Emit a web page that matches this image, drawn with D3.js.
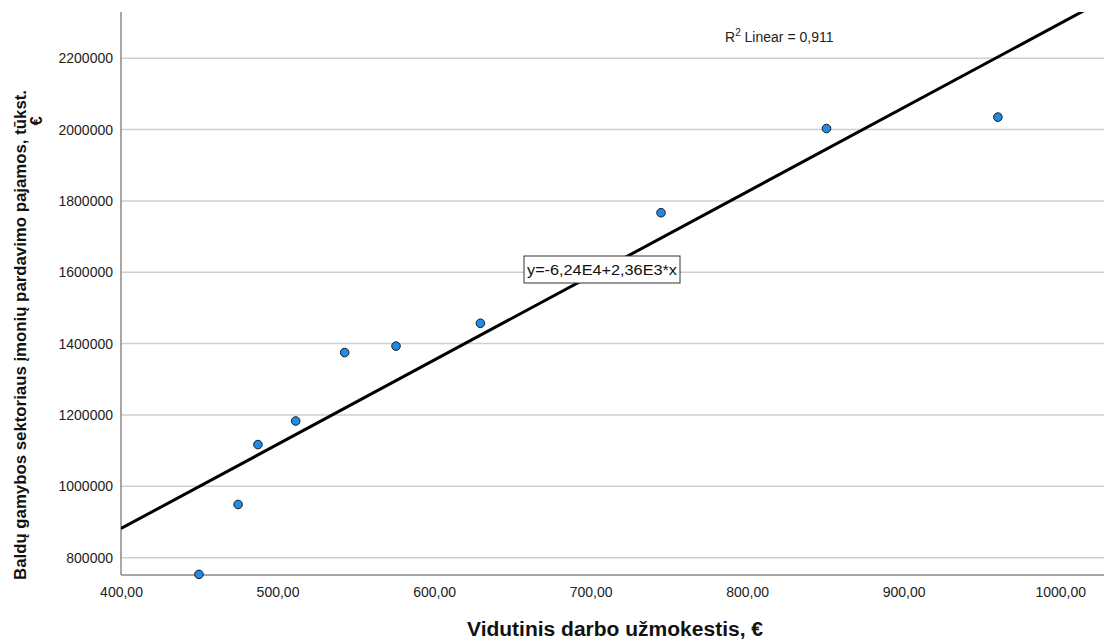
<!DOCTYPE html>
<html>
<head>
<meta charset="utf-8">
<script src="https://cdn.jsdelivr.net/npm/d3@7"></script>
<style>
  html, body { margin: 0; padding: 0; background: #fff; }
  svg { display: block; }
  text { font-family: "Liberation Sans", Arial, sans-serif; }
</style>
</head>
<body>
<svg id="chart" width="1106" height="643"></svg>
<script>
// Average wage (EUR) vs furniture sector sales revenue (thousand EUR)
const wages = [449.8, 474.8, 487.5, 511.6, 542.9, 575.7, 629.6, 745.0, 850.7, 960.2];
const revenue = [753000, 949000, 1117000, 1183000, 1375000, 1393000, 1457000, 1767000, 2003000, 2035000];
const xTicks = [400, 500, 600, 700, 800, 900, 1000];
const yTicks = [800000, 1000000, 1200000, 1400000, 1600000, 1800000, 2000000, 2200000];
const fitIntercept = -62400;
const fitSlope = 2360;
const r2 = "0,911";
const equationLabel = "y=-6,24E4+2,36E3*x";
const xTitle = "Vidutinis darbo užmokestis, €";
const yTitleLines = ["Baldų gamybos sektoriaus įmonių pardavimo pajamos, tūkst.", "€"];

const svg = d3.select("#chart");
const plot = { left: 121, right: 1104, top: 12, bottom: 575 };

const x = d3.scaleLinear().domain([400, 1028]).range([plot.left, plot.right]);
const y = d3.scaleLinear().domain([751300, 2329700]).range([plot.bottom, plot.top]);

const fmtX = v => d3.format(".2f")(v).replace(".", ",");

// clip for the plot area
svg.append("defs").append("clipPath").attr("id", "plotClip")
  .append("rect").attr("x", plot.left).attr("y", plot.top)
  .attr("width", plot.right - plot.left).attr("height", plot.bottom - plot.top);

// horizontal grid lines
svg.append("g").selectAll("line").data(yTicks).join("line")
  .attr("x1", plot.left).attr("x2", plot.right)
  .attr("y1", d => y(d)).attr("y2", d => y(d))
  .attr("stroke", "#cfcfcf").attr("stroke-width", 1.5);

// axes
const yAxis = svg.append("g").attr("transform", `translate(${plot.left},0)`)
  .call(d3.axisLeft(y).tickValues(yTicks).tickSize(0).tickPadding(8).tickFormat(d3.format("d")));
const xAxis = svg.append("g").attr("transform", `translate(0,${plot.bottom})`)
  .call(d3.axisBottom(x).tickValues(xTicks).tickSize(0).tickPadding(12).tickFormat(fmtX));
[yAxis, xAxis].forEach(g => {
  g.select(".domain").attr("stroke", "#8a8a8a").attr("stroke-width", 1.5);
  g.selectAll("text").attr("font-size", 14).attr("fill", "#222")
    .attr("font-family", "'Liberation Sans', Arial, sans-serif");
});
yAxis.select(".domain").attr("d", `M0,${plot.top}V${plot.bottom}`);
xAxis.select(".domain").attr("d", `M${plot.left},0H${plot.right}`);

// fit line
const fitY = v => fitIntercept + fitSlope * v;
svg.append("line")
  .attr("clip-path", "url(#plotClip)")
  .attr("x1", x(400)).attr("y1", y(fitY(400)))
  .attr("x2", x(1028)).attr("y2", y(fitY(1028)))
  .attr("stroke", "#000").attr("stroke-width", 3);

// points
svg.append("g").selectAll("circle").data(wages.map((w, i) => [w, revenue[i]])).join("circle")
  .attr("cx", d => x(d[0])).attr("cy", d => y(d[1])).attr("r", 4.3)
  .attr("fill", "#1e8ce6").attr("stroke", "#1a1a1a").attr("stroke-width", 1);

// R² annotation
const r2Text = svg.append("text").attr("x", 725).attr("y", 42).attr("font-size", 14).attr("fill", "#222");
r2Text.append("tspan").text("R");
r2Text.append("tspan").attr("font-size", 10).attr("dy", -6).text("2");
r2Text.append("tspan").attr("dy", 6).text(" Linear = " + r2);

// equation label box
const eqX = 602, eqY = 269.5;
const eqGroup = svg.append("g");
const eqRect = eqGroup.append("rect");
const eqText = eqGroup.append("text").attr("x", eqX).attr("y", eqY + 5.5).attr("text-anchor", "middle")
  .attr("font-size", 15.5).attr("fill", "#111")
  .attr("textLength", 150).attr("lengthAdjust", "spacingAndGlyphs").text(equationLabel);
eqRect.attr("x", eqX - 78).attr("y", eqY - 13.5).attr("width", 156).attr("height", 27)
  .attr("fill", "#fff").attr("stroke", "#333").attr("stroke-width", 1);

// axis titles
svg.append("text").attr("x", 615).attr("y", 636).attr("text-anchor", "middle")
  .attr("font-size", 19.5).attr("font-weight", "bold").attr("fill", "#111")
  .attr("textLength", 296).attr("lengthAdjust", "spacingAndGlyphs").text(xTitle);

const yt = svg.append("text").attr("transform", "translate(26,335) rotate(-90)")
  .attr("text-anchor", "middle").attr("font-size", 16.5).attr("font-weight", "bold").attr("fill", "#111");
yt.append("tspan").attr("x", 0).attr("y", 0)
  .attr("textLength", 490).attr("lengthAdjust", "spacingAndGlyphs").text(yTitleLines[0]);
yt.append("tspan").attr("x", 214).attr("y", 16).text(yTitleLines[1]);
</script>
</body>
</html>
